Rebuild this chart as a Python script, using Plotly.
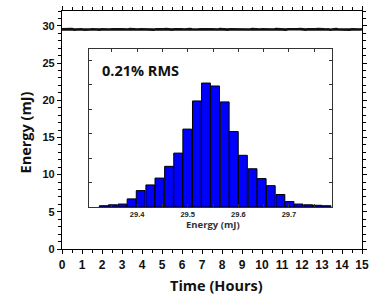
import numpy as np
import plotly.graph_objects as go

# Main time series: pulse energy (mJ) sampled across 15 hours
energy_series = [
    29.53, 29.55, 29.51, 29.54, 29.52, 29.56, 29.50, 29.53, 29.55, 29.52,
    29.54, 29.49, 29.53, 29.56, 29.52, 29.54, 29.51, 29.55, 29.53, 29.50,
    29.54, 29.52, 29.56, 29.53, 29.51, 29.55, 29.52, 29.54, 29.47, 29.53,
    29.55, 29.52, 29.54, 29.51, 29.56, 29.53, 29.50, 29.54, 29.52, 29.55,
    29.53, 29.51, 29.54, 29.56, 29.52, 29.53, 29.49, 29.55, 29.52, 29.54,
    29.51, 29.53, 29.56, 29.52, 29.54, 29.50, 29.53, 29.55, 29.52, 29.54,
    29.53, 29.51, 29.55, 29.52, 29.56, 29.53, 29.50, 29.54, 29.52, 29.55,
    29.53, 29.51, 29.54, 29.46, 29.53, 29.55, 29.52, 29.54, 29.51, 29.56,
    29.53, 29.52, 29.55, 29.50, 29.54, 29.53, 29.56, 29.52, 29.54, 29.51,
    29.55, 29.53, 29.50, 29.54, 29.52, 29.56, 29.53, 29.51, 29.55, 29.52,
    29.54, 29.53, 29.49, 29.55, 29.52, 29.54, 29.51, 29.56, 29.53, 29.52,
    29.55, 29.53, 29.50, 29.54, 29.52, 29.55, 29.53, 29.51, 29.54, 29.56,
    29.52, 29.53, 29.50, 29.55, 29.52, 29.54, 29.51, 29.53, 29.56, 29.52,
    29.54, 29.53, 29.51, 29.55, 29.48, 29.54, 29.52, 29.56, 29.53, 29.51,
    29.55, 29.52, 29.54, 29.53, 29.50, 29.55, 29.52, 29.54, 29.53, 29.52,
    29.54,
]
hours = np.linspace(0, 15, len(energy_series))

# Inset histogram
bin_centers = [
    29.334, 29.352, 29.371, 29.389, 29.407, 29.426, 29.444, 29.463, 29.481,
    29.499, 29.518, 29.536, 29.554, 29.573, 29.591, 29.609, 29.628, 29.646,
    29.664, 29.683, 29.701, 29.719, 29.738, 29.756, 29.774,
]
counts = [
    5, 9, 12, 33, 67, 90, 118, 166, 220, 318, 433, 506, 494, 429, 308, 211,
    156, 116, 87, 51, 22, 12, 9, 7, 5,
]

main_x_ticks = list(range(0, 16))
main_y_ticks = [0, 5, 10, 15, 20, 25, 30]
inset_x_ticks = [29.4, 29.5, 29.6, 29.7]
rms_label = "0.21% RMS"

TICKFONT = "Liberation Sans, Arial, sans-serif"
TITLEFONT = "Open Sans, Noto Sans, sans-serif"

fig = go.Figure()

fig.add_trace(go.Scatter(
    x=hours, y=energy_series, mode="lines",
    line=dict(color="#111111", width=2.6),
    xaxis="x", yaxis="y", showlegend=False, hoverinfo="skip",
))

# soft shadow behind the bars
fig.add_trace(go.Bar(
    x=bin_centers, y=counts, offset=-0.0077, width=0.0173,
    marker=dict(color="#b8b8e0", line=dict(width=0)),
    xaxis="x2", yaxis="y2", showlegend=False, hoverinfo="skip",
))
fig.add_trace(go.Bar(
    x=bin_centers, y=counts, offset=-0.0086, width=0.0173,
    marker=dict(color="#0000ff", line=dict(color="#000000", width=1)),
    xaxis="x2", yaxis="y2", showlegend=False,
))

fig.update_layout(
    width=372, height=303,
    margin=dict(l=62, r=10, t=11, b=54, autoexpand=False),
    paper_bgcolor="white", plot_bgcolor="white",
    barmode="overlay",
    xaxis=dict(
        domain=[0, 1], range=[0, 15], tickvals=main_x_ticks, automargin=False,
        ticks="outside", ticklen=4, tickwidth=1, tickcolor="black",
        minor=dict(dtick=0.5, ticks="outside", ticklen=2.5, tickcolor="black"),
        showline=True, linecolor="black", linewidth=1.2, mirror="ticks",
        showgrid=False, zeroline=False,
        tickfont=dict(family=TICKFONT, size=12, color="#111", weight="bold"),
    ),
    yaxis=dict(
        domain=[0, 1], range=[0, 32], tickvals=main_y_ticks, automargin=False,
        ticks="outside", ticklen=4, tickwidth=1, tickcolor="black",
        minor=dict(dtick=1, ticks="outside", ticklen=2.5, tickcolor="black"),
        showline=True, linecolor="black", linewidth=1.2, mirror="ticks",
        showgrid=False, zeroline=False,
        tickfont=dict(family=TICKFONT, size=11, color="#111", weight="bold"),
    ),
    xaxis2=dict(
        domain=[0.09, 0.9], anchor="y2", range=[29.305, 29.785], automargin=False,
        tickvals=inset_x_ticks, ticktext=[f"{v:.1f}" for v in inset_x_ticks],
        ticks="inside", ticklen=3, tickcolor="#333",
        minor=dict(dtick=0.05, ticks="inside", ticklen=3, tickcolor="#333"),
        showline=True, linecolor="#333", linewidth=1, mirror="ticks",
        showgrid=False, zeroline=False,
        tickfont=dict(family=TICKFONT, size=7.5, color="#222", weight="bold"),
    ),
    yaxis2=dict(
        domain=[0.1765, 0.8403], anchor="x2", range=[0, 645], automargin=False,
        dtick=100, ticks="inside", ticklen=3, tickcolor="#333",
        showticklabels=False,
        showline=True, linecolor="#333", linewidth=1, mirror="ticks",
        showgrid=False, zeroline=False,
    ),
    annotations=[
        dict(text=rms_label, xref="paper", yref="paper", x=0.127, y=0.752,
             xanchor="left", yanchor="middle", showarrow=False,
             font=dict(family=TITLEFONT, size=14.5, color="#111", weight="bold")),
        dict(text="Energy (mJ)", xref="paper", yref="paper", x=0.502, y=0.103,
             xanchor="center", yanchor="middle", showarrow=False,
             font=dict(family=TITLEFONT, size=9.5, color="#333", weight="bold")),
        dict(text="Time (Hours)", xref="paper", yref="paper", x=0.515, y=-0.155,
             xanchor="center", yanchor="middle", showarrow=False,
             font=dict(family=TITLEFONT, size=14.5, color="#111", weight="bold")),
        dict(text="Energy (mJ)", xref="paper", yref="paper", x=-0.123, y=0.49,
             xanchor="center", yanchor="middle", showarrow=False, textangle=-90,
             font=dict(family=TITLEFONT, size=14.5, color="#111", weight="bold")),
    ],
)

fig.write_html(
    "out.html",
    config={"displayModeBar": False},
    post_script="document.body.style.margin='0';document.body.style.overflow='hidden';",
)
